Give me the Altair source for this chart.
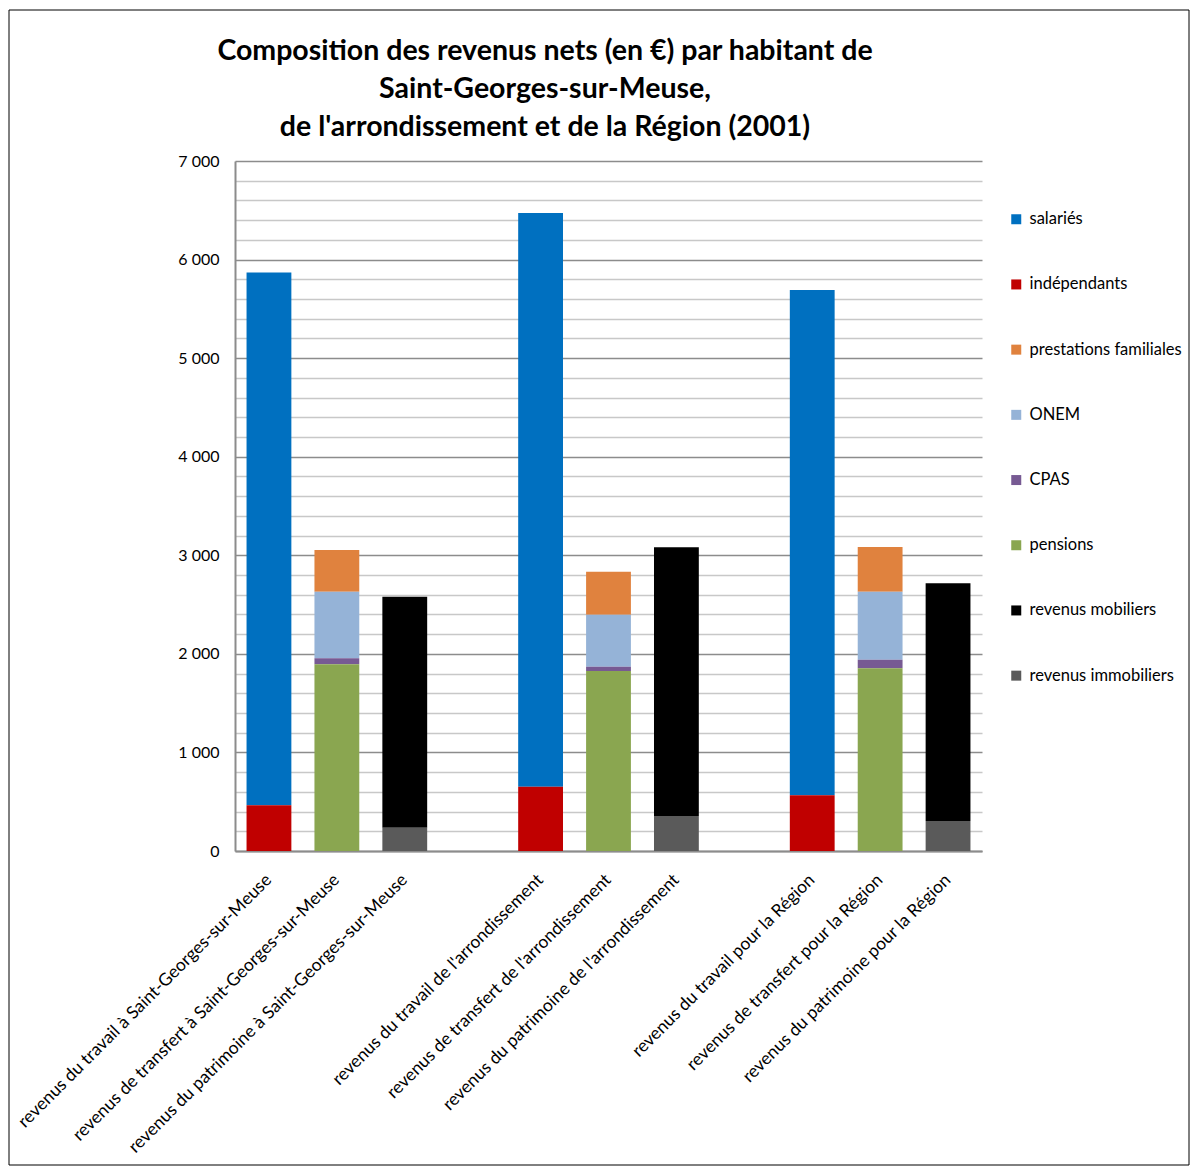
import altair as alt
import pandas as pd

title_lines = ["Composition  des revenus nets (en €) par habitant de",
               "Saint-Georges-sur-Meuse,",
               "de l'arrondissement  et de la Région (2001)"]

categories = [
    "revenus du travail à Saint-Georges-sur-Meuse",
    "revenus de transfert à Saint-Georges-sur-Meuse",
    "revenus du patrimoine à Saint-Georges-sur-Meuse",
    " ",
    "revenus du travail de l'arrondissement",
    "revenus de transfert de l'arrondissement",
    "revenus du patrimoine de l'arrondissement",
    "  ",
    "revenus du travail pour la Région",
    "revenus de transfert pour la Région",
    "revenus du patrimoine pour la Région",
]

series = ["salariés", "indépendants", "prestations familiales", "ONEM",
          "CPAS", "pensions", "revenus mobiliers", "revenus immobiliers"]
colors = ["#0070C0", "#C00000", "#E0823E", "#95B3D7",
          "#775A93", "#8AA650", "#000000", "#5A5A5A"]
stack_rank = [1, 0, 5, 4, 3, 2, 7, 6]

# values per series for the 9 real bars (travail, transfert, patrimoine) x 3 areas
salaries     = [5405, 0, 0, 5820, 0, 0, 5126, 0, 0]
independants = [465, 0, 0, 653, 0, 0, 565, 0, 0]
prestations  = [0, 423, 0, 0, 436, 0, 0, 453, 0]
onem         = [0, 676, 0, 0, 528, 0, 0, 690, 0]
cpas         = [0, 60, 0, 0, 44, 0, 0, 88, 0]
pensions     = [0, 1895, 0, 0, 1826, 0, 0, 1853, 0]
mobiliers    = [0, 0, 2343, 0, 0, 2726, 0, 0, 2412]
immobiliers  = [0, 0, 237, 0, 0, 355, 0, 0, 304]

values = [salaries, independants, prestations, onem, cpas, pensions, mobiliers, immobiliers]
real_cats = [c for c in categories if c.strip()]

rows = []
for s, rank, vals in zip(series, stack_rank, values):
    for c, v in zip(real_cats, vals):
        if v:
            rows.append({"cat": c, "serie": s, "rank": rank, "value": v})
df = pd.DataFrame(rows)

grid_color = {"condition": {"test": "datum.value % 1000 === 0", "value": "#8c8c8c"},
              "value": "#c8c8c8"}

bars = alt.Chart(df).mark_bar().encode(
    x=alt.X("cat:N", sort=categories,
            scale=alt.Scale(domain=categories, paddingInner=0.34, paddingOuter=0.17),
            axis=alt.Axis(title=None, labelAngle=-45, labelAlign="right", labelBaseline="middle",
                          labelFontSize=17.5, labelFont="Lato", labelColor="#000000",
                          labelPadding=26, ticks=False, domainColor="#8c8c8c", domainWidth=2,
                          labelLimit=500)),
    y=alt.Y("value:Q", stack="zero",
            scale=alt.Scale(domain=[0, 7000], nice=False),
            axis=alt.Axis(title=None, values=list(range(0, 7001, 200)),
                          labelExpr="datum.value % 1000 === 0 ? replace(format(datum.value, ','), ',', ' ') : ''",
                          labelFontSize=16, labelFont="Lato", labelColor="#000000",
                          labelPadding=16, ticks=False, gridColor=grid_color, gridWidth=1.5,
                          domainColor="#8c8c8c", domainWidth=2)),
    color=alt.Color("serie:N", sort=series,
                    scale=alt.Scale(domain=series, range=colors),
                    legend=alt.Legend(title=None, orient="none", legendX=773, legendY=50,
                                      symbolType="square", symbolSize=100, symbolStrokeWidth=0,
                                      labelFontSize=16.5, labelFont="Lato", labelColor="#000000",
                                      rowPadding=48.2, labelOffset=5, padding=0, labelLimit=300)),
    order=alt.Order("rank:Q"),
)

title = alt.Chart(pd.DataFrame({"t": ["\n".join(title_lines)]})).mark_text(
    font="Lato", fontSize=28.5, fontWeight="bold", color="#000000",
    align="center", baseline="middle", lineBreak="\n", lineHeight=38
).encode(text="t:N", x=alt.value(310), y=alt.value(-110))

frame = alt.Chart(pd.DataFrame({"a": [0]})).mark_rect(
    fill=None, stroke="#000000", strokeWidth=1
).encode(x=alt.value(-226), x2=alt.value(954), y=alt.value(-151), y2=alt.value(1004))

chart = alt.layer(bars, title, frame).properties(
    width=747, height=690,
    padding={"left": 227, "top": 153, "right": 209, "bottom": 316},
    autosize=alt.AutoSizeParams(type="none"),
).configure_view(stroke=None)

chart.save("out.html", embed_options={"renderer": "svg", "actions": False})
